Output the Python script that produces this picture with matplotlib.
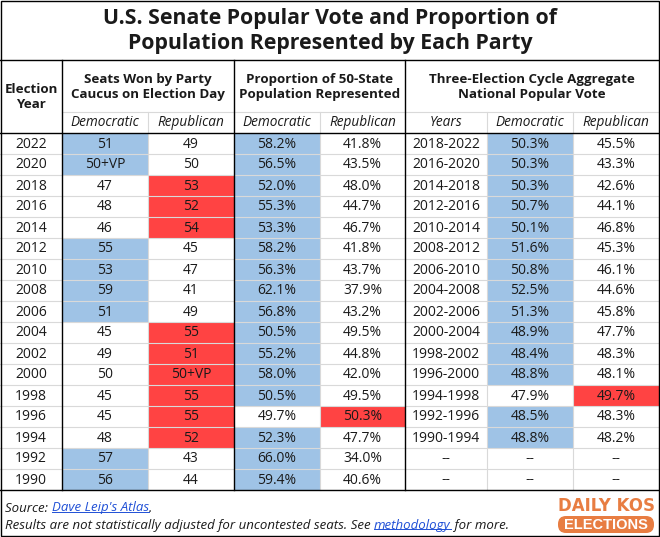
import matplotlib
matplotlib.use('Agg')
import matplotlib.pyplot as plt
from matplotlib.patches import Rectangle, FancyBboxPatch

plt.rcParams['font.family'] = ['Open Sans', 'DejaVu Sans']

years = [2022, 2020, 2018, 2016, 2014, 2012, 2010, 2008, 2006,
         2004, 2002, 2000, 1998, 1996, 1994, 1992, 1990]
dem_seats = ['51', '50+VP', '47', '48', '46', '55', '53', '59', '51',
             '45', '49', '50', '45', '45', '48', '57', '56']
rep_seats = ['49', '50', '53', '52', '54', '45', '47', '41', '49',
             '55', '51', '50+VP', '55', '55', '52', '43', '44']
dem_prop = [58.2, 56.5, 52.0, 55.3, 53.3, 58.2, 56.3, 62.1, 56.8,
            50.5, 55.2, 58.0, 50.5, 49.7, 52.3, 66.0, 59.4]
rep_prop = [41.8, 43.5, 48.0, 44.7, 46.7, 41.8, 43.7, 37.9, 43.2,
            49.5, 44.8, 42.0, 49.5, 50.3, 47.7, 34.0, 40.6]
cycles = ['2018-2022', '2016-2020', '2014-2018', '2012-2016', '2010-2014',
          '2008-2012', '2006-2010', '2004-2008', '2002-2006', '2000-2004',
          '1998-2002', '1996-2000', '1994-1998', '1992-1996', '1990-1994',
          None, None]
dem_vote = [50.3, 50.3, 50.3, 50.7, 50.1, 51.6, 50.8, 52.5, 51.3,
            48.9, 48.4, 48.8, 47.9, 48.5, 48.8, None, None]
rep_vote = [45.5, 43.3, 42.6, 44.1, 46.8, 45.3, 46.1, 44.6, 45.8,
            47.7, 48.3, 48.1, 49.7, 48.3, 48.2, None, None]

title = 'U.S. Senate Popular Vote and Proportion of\nPopulation Represented by Each Party'
groups = ['Seats Won by Party\nCaucus on Election Day',
          'Proportion of 50-State\nPopulation Represented',
          'Three-Election Cycle Aggregate\nNational Popular Vote']
subheads = ['Democratic', 'Republican', 'Democratic', 'Republican',
            'Years', 'Democratic', 'Republican']

BLUE = '#9fc3e6'
RED = '#ff4343'
GRID = '#d9d9d9'
TXT = '#1a1a1a'
ORANGE = '#e87d42'

W, H = 660, 537
fig = plt.figure(figsize=(W / 100, H / 100), dpi=100)
ax = fig.add_axes([0, 0, 1, 1])
ax.set_xlim(0, W)
ax.set_ylim(H, 0)
ax.axis('off')

col_x = [0, 62, 148, 234, 320, 405, 487, 573, 659]
row_top = 133
row_h = 21
n = len(years)
table_bottom = row_top + n * row_h


def seat_num(s):
    return float(s.replace('+VP', '.5'))


def pct(v):
    return '--' if v is None else '{:.1f}%'.format(v)


# cell fills
for i in range(n):
    y0 = row_top + i * row_h
    d, r = seat_num(dem_seats[i]), seat_num(rep_seats[i])
    fills = {}
    if d > r:
        fills[1] = BLUE
    else:
        fills[2] = RED
    if dem_prop[i] > rep_prop[i]:
        fills[3] = BLUE
    else:
        fills[4] = RED
    if dem_vote[i] is not None:
        if dem_vote[i] > rep_vote[i]:
            fills[6] = BLUE
        else:
            fills[7] = RED
    for c, col in fills.items():
        ax.add_patch(Rectangle((col_x[c], y0), col_x[c + 1] - col_x[c], row_h,
                               facecolor=col, edgecolor='none', zorder=1))

# gray grid
for i in range(1, n):
    y = row_top + i * row_h
    ax.plot([0, W - 1], [y, y], color=GRID, lw=0.8, zorder=2)
for c in [2, 4, 6, 7]:
    ax.plot([col_x[c], col_x[c]], [112, table_bottom], color=GRID, lw=0.8, zorder=2)
ax.plot([62, W - 1], [112, 112], color=GRID, lw=0.8, zorder=2)

# black lines
for y in [60, 133, table_bottom]:
    ax.plot([0, W - 1], [y, y], color='black', lw=1.0, zorder=3)
for x in [62, 234, 405]:
    ax.plot([x, x], [60, table_bottom], color='black', lw=1.0, zorder=3)
ax.add_patch(Rectangle((0.5, 0.5), W - 1.5, H - 1.5, fill=False,
                       edgecolor='black', lw=1.0, zorder=3))

# title
ax.text(W / 2, 31, title, ha='center', va='center', fontsize=15.3,
        fontweight='bold', color=TXT, linespacing=1.2)

# headers
ax.text(31, 97, 'Election\nYear', ha='center', va='center', fontsize=9.6,
        fontweight='bold', color=TXT, linespacing=1.15)
for g, (a, b) in zip(groups, [(1, 3), (3, 5), (5, 8)]):
    ax.text((col_x[a] + col_x[b]) / 2, 87, g, ha='center', va='center',
            fontsize=9.6, fontweight='bold', color=TXT, linespacing=1.15)
for c, s in enumerate(subheads, start=1):
    ax.text((col_x[c] + col_x[c + 1]) / 2, 123, s, ha='center', va='center',
            fontsize=9.8, style='italic', color=TXT)

# data
for i in range(n):
    yc = row_top + i * row_h + row_h / 2 + 0.5
    vals = [str(years[i]), dem_seats[i], rep_seats[i], pct(dem_prop[i]),
            pct(rep_prop[i]), cycles[i] or '--', pct(dem_vote[i]), pct(rep_vote[i])]
    for c, v in enumerate(vals):
        fam = ['DejaVu Sans'] if v == '--' else None
        ax.text((col_x[c] + col_x[c + 1]) / 2, yc, v, ha='center', va='center',
                fontsize=9 if fam else 10, color=TXT, zorder=4, family=fam)

# footer
fs = 9.5
t1 = ax.text(5, 508, 'Source: ', fontsize=fs, style='italic', color=TXT, va='center')
l1 = ax.annotate("Dave Leip's Atlas", xy=(1, 0), xycoords=t1, va='bottom',
                 fontsize=fs, style='italic', color='#1f4fd6')
ax.annotate('.', xy=(1, 0), xycoords=l1, va='bottom', fontsize=fs,
            style='italic', color=TXT)
t2 = ax.text(5, 525, 'Results are not statistically adjusted for uncontested seats. See ',
             fontsize=fs, style='italic', color=TXT, va='center')
l2 = ax.annotate('methodology', xy=(1, 0), xycoords=t2, va='bottom',
                 fontsize=fs, style='italic', color='#1f4fd6')
ax.annotate(' for more.', xy=(1, 0), xycoords=l2, va='bottom', fontsize=fs,
            style='italic', color=TXT)

fig.canvas.draw()
r = fig.canvas.get_renderer()
inv = ax.transData.inverted()
for lk in [l1, l2]:
    bb = lk.get_window_extent(r)
    (x0, y0), (x1, y1) = inv.transform([[bb.x0, bb.y0], [bb.x1, bb.y1]])
    ax.plot([x0, x1], [y0 - 2.5, y0 - 2.5], color='#1f4fd6', lw=0.7)

# logo
ax.text(606, 506, 'DAILY KOS', ha='center', va='center', fontsize=12,
        fontweight='heavy', color=ORANGE,
        family=['Liberation Sans Narrow', 'DejaVu Sans'])
ax.add_patch(FancyBboxPatch((558, 516), 96, 17, boxstyle='round,pad=0,rounding_size=8',
                            facecolor=ORANGE, edgecolor='none'))
ax.text(606, 524.8, 'ELECTIONS', ha='center', va='center', fontsize=10.5,
        fontweight='bold', color='white', family=['Liberation Sans', 'DejaVu Sans'])

fig.savefig('out.png', dpi=100)
